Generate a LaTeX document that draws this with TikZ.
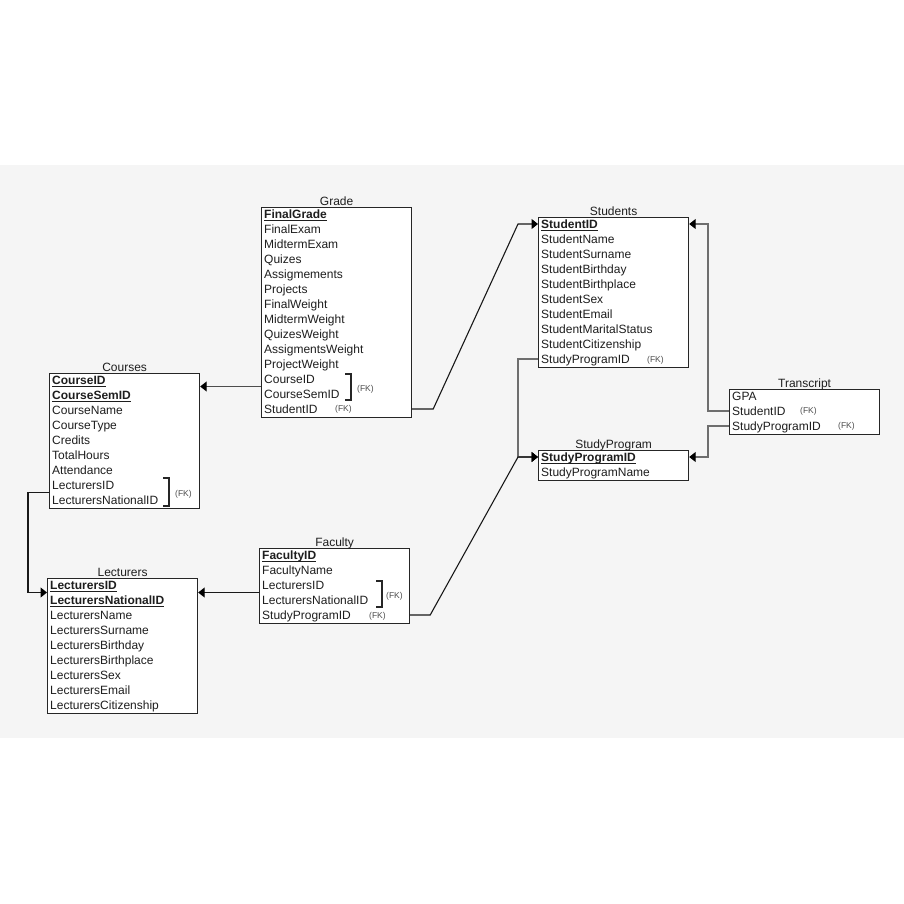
\documentclass[tikz,border=0pt]{standalone}
\usepackage{fontspec}
\setmainfont{Liberation Sans}
\usetikzlibrary{arrows.meta,calc}
\definecolor{bgray}{HTML}{F5F5F5}
\definecolor{txt}{HTML}{1E1E1E}
\definecolor{lgray}{HTML}{6E6E6E}
\newcommand{\pk}[1]{{\bfseries\setbox0\hbox{#1}\rlap{\rule[-2.2pt]{\wd0}{0.9pt}}\box0}}
\newcommand{\erdtable}[6]{%
  \node[tbl, minimum height=#4*15pt] (#1) at (#2,#3) {};
  \node[ttl] (#1-title) at ([yshift=2pt]#1.north) {#5};
  \foreach \f [count=\i] in {#6} {
    \node[field] (#1-\i) at (#2+3, #3+7+15*\i-15) {\f};
  }%
}
\tikzset{
  tbl/.style={draw=black!85, line width=1.2pt, fill=white, anchor=north west, inner sep=0pt, minimum width=150pt},
  ttl/.style={anchor=base, inner sep=0pt, font=\fontsize{12}{14}\selectfont, text=txt},
  field/.style={anchor=west, inner sep=0pt, text height=9pt, text depth=0pt, font=\fontsize{12}{14}\selectfont, text=txt},
  fk/.style={anchor=west, inner sep=0pt, font=\fontsize{8.5}{10}\selectfont, text=black!70},
  brk/.style={draw=black!85, line width=1.3pt},
  conn/.style={draw=black!90, line width=1.1pt, -{Triangle[length=6.5pt,width=10pt,color=black]}},
  conng/.style={conn, draw=lgray},
}
\begin{document}
\begin{tikzpicture}[x=1pt,y=-1pt]
\useasboundingbox (0,0) rectangle (904,904);
\fill[white] (0,0) rectangle (904,904);
\fill[bgray] (0,165) rectangle (904,738);

\erdtable{grade}{261}{207}{14}{Grade}{\pk{FinalGrade},FinalExam,MidtermExam,Quizes,Assigmements,Projects,FinalWeight,MidtermWeight,QuizesWeight,AssigmentsWeight,ProjectWeight,CourseID,CourseSemID,StudentID}
\erdtable{students}{538}{217}{10}{Students}{\pk{StudentID},StudentName,StudentSurname,StudentBirthday,StudentBirthplace,StudentSex,StudentEmail,StudentMaritalStatus,StudentCitizenship,StudyProgramID}
\erdtable{courses}{49}{373}{9}{Courses}{\pk{CourseID},\pk{CourseSemID},CourseName,CourseType,Credits,TotalHours,Attendance,LecturersID,LecturersNationalID}
\erdtable{lecturers}{47}{578}{9}{Lecturers}{\pk{LecturersID},\pk{LecturersNationalID},LecturersName,LecturersSurname,LecturersBirthday,LecturersBirthplace,LecturersSex,LecturersEmail,LecturersCitizenship}
\erdtable{faculty}{259}{548}{5}{Faculty}{\pk{FacultyID},FacultyName,LecturersID,LecturersNationalID,StudyProgramID}
\erdtable{spg}{538}{450}{2}{StudyProgram}{\pk{StudyProgramID},StudyProgramName}
\erdtable{transcript}{729}{389}{3}{Transcript}{GPA,StudentID,StudyProgramID}

% brackets and FK labels
\draw[brk] (345,374) -- (351,374) -- (351,400) -- (345,400);
\draw[brk] (163,478) -- (169,478) -- (169,506) -- (163,506);
\draw[brk] (376,581) -- (382,581) -- (382,607) -- (376,607);
\node[fk] (fk-g1) at (357,389) {(FK)};
\node[fk] (fk-g2) at (335,409) {(FK)};
\node[fk] (fk-c1) at (175,494) {(FK)};
\node[fk] (fk-f1) at (386,596) {(FK)};
\node[fk] (fk-f2) at (369,616) {(FK)};
\node[fk] (fk-s1) at (647,360) {(FK)};
\node[fk] (fk-t1) at (800,411) {(FK)};
\node[fk] (fk-t2) at (838,426) {(FK)};

% key mid points
\coordinate (grade-k) at ($(grade-12.west)!.5!(grade-13.west)$);
\coordinate (courses-k) at ($(courses-8.west)!.5!(courses-9.west)$);
\coordinate (lect-k) at ($(lecturers-1.west)!.5!(lecturers-2.west)$);
\coordinate (fac-k) at ($(faculty-3.west)!.5!(faculty-4.west)$);

% connectors
\draw[conng, draw=black!70] (grade.west |- grade-k) -- (courses.east |- grade-k);
\draw[conn] (grade.east |- grade-14.west) -- ++(21,0) -- ($(students.west |- students-1.west)+(-20,0)$) -- (students.west |- students-1.west);
\draw[conng] (students.west |- students-10.west) -- ++(-20,0) |- (spg.west |- spg-1.west);
\draw[conn] (faculty.east |- faculty-5.west) -- ++(20,0) -- ($(spg.west |- spg-1.west)+(-20,0)$) -- (spg.west |- spg-1.west);
\draw[conn] (courses.west |- courses-k) -- ++(-21,0) |- (lecturers.west |- lect-k);
\draw[conn] (faculty.west |- fac-k) -- (lecturers.east |- lect-k);
\draw[conng] (transcript.west |- transcript-2.west) -- ++(-21,0) |- (students.east |- students-1.west);
\draw[conng] (transcript.west |- transcript-3.west) -- ++(-21,0) |- (spg.east |- spg-1.west);
\end{tikzpicture}
\end{document}
